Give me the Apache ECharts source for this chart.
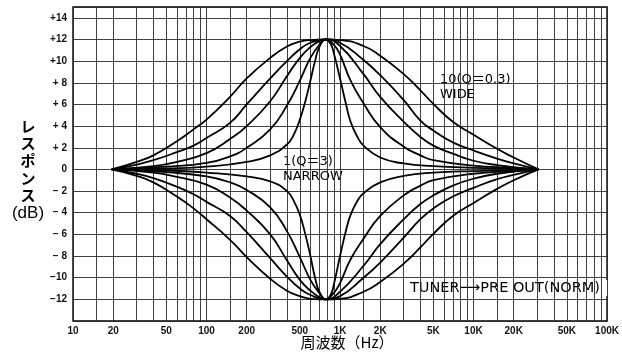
<!DOCTYPE html>
<html>
<head>
<meta charset="utf-8">
<script src="https://cdn.jsdelivr.net/npm/echarts@6/dist/echarts.min.js"></script>
<style>
  html, body { margin: 0; padding: 0; background: #fff; }
  #chart { width: 622px; height: 358px; }
</style>
</head>
<body>
<div id="chart"></div>
<script>
// Tone-control response curves, [frequency Hz, level dB].
// Boost side, narrowest (1, Q=3) to widest (10, Q=0.3).
const boostNarrow = [[19.5,0],[50,0.1],[100,0.25],[200,0.7],[300,1.3],[400,2.3],[450,3.2],[500,4.6],[550,6.3],[600,8.2],[650,10.0],[700,11.3],[780,12],[850,11.6],[900,10.7],[1000,8.4],[1100,6.2],[1200,4.4],[1350,3.0],[1500,2.2],[2000,1.1],[3000,0.55],[5000,0.3],[10000,0.15],[30600,0]];
const boostD = [[19.5,0],[50,0.25],[100,0.6],[150,1.2],[200,2.0],[300,3.7],[400,5.9],[500,8.2],[600,10.3],[700,11.5],[780,12],[900,11.5],[1000,10.6],[1200,8.2],[1500,6.1],[2000,3.9],[3000,2.1],[4000,1.3],[5000,0.85],[10000,0.35],[20000,0.15],[30600,0]];
const boostC = [[19.5,0],[40,0.3],[60,0.7],[100,1.5],[150,2.8],[200,4.0],[300,6.3],[400,8.6],[500,10.3],[600,11.3],[700,11.85],[780,12],[1000,11.4],[1500,8.8],[2000,6.7],[3000,4.4],[4000,3.0],[5000,2.2],[7000,1.45],[10000,0.8],[15000,0.4],[30600,0]];
const boostB = [[19.5,0],[30,0.45],[40,0.85],[60,1.6],[80,2.2],[100,2.9],[150,4.3],[200,6.0],[300,8.4],[400,10.0],[500,11.1],[600,11.7],[780,12],[1000,11.7],[1500,10.1],[2000,8.7],[3000,6.4],[4000,4.5],[5000,3.6],[7000,2.5],[10000,1.75],[15000,1.0],[20000,0.55],[30600,0]];
const boostWide = [[19.5,0],[30,0.7],[40,1.3],[60,2.6],[80,3.7],[100,4.6],[150,6.7],[200,8.4],[300,10.3],[400,11.35],[500,11.8],[600,11.95],[780,12],[1000,11.95],[1500,11.4],[2000,10.5],[3000,8.8],[4000,7.3],[5000,6.05],[7000,4.4],[10000,3.2],[15000,1.9],[20000,1.1],[30600,0]];

// Cut side, same five settings.
const cutNarrow = [[19.5,0],[50,-0.1],[100,-0.3],[200,-0.65],[300,-1.1],[400,-2.0],[450,-2.9],[500,-4.2],[550,-6.0],[600,-8.0],[650,-10.0],[700,-11.3],[780,-12],[850,-11.6],[900,-10.6],[1000,-8.0],[1100,-5.8],[1200,-4.2],[1350,-2.9],[1500,-2.2],[2000,-1.2],[3000,-0.6],[5000,-0.3],[10000,-0.15],[30600,0]];
const cutD = [[19.5,0],[50,-0.25],[100,-0.65],[150,-1.2],[200,-1.9],[300,-3.5],[400,-5.7],[500,-8.1],[600,-10.2],[700,-11.4],[780,-12],[900,-11.4],[1000,-10.5],[1200,-8.3],[1500,-6.4],[2000,-4.3],[3000,-2.4],[4000,-1.5],[5000,-1.0],[10000,-0.4],[20000,-0.15],[30600,0]];
const cutC = [[19.5,0],[40,-0.3],[60,-0.7],[100,-1.4],[150,-2.6],[200,-3.8],[300,-6.0],[400,-8.4],[500,-10.2],[600,-11.2],[700,-11.8],[780,-12],[1000,-11.3],[1500,-8.9],[2000,-6.9],[3000,-4.6],[4000,-3.2],[5000,-2.4],[7000,-1.5],[10000,-0.85],[15000,-0.4],[30600,0]];
const cutB = [[19.5,0],[30,-0.4],[40,-0.8],[60,-1.6],[80,-2.3],[100,-3.0],[150,-4.3],[200,-5.8],[300,-8.2],[400,-9.9],[500,-11.0],[600,-11.6],[780,-12],[1000,-11.7],[1500,-10.0],[2000,-8.6],[3000,-6.3],[4000,-4.6],[5000,-3.6],[7000,-2.5],[10000,-1.7],[15000,-0.9],[20000,-0.5],[30600,0]];
const cutWide = [[19.5,0],[30,-0.6],[40,-1.2],[60,-2.5],[80,-3.6],[100,-4.6],[150,-6.5],[200,-8.1],[300,-10.1],[400,-11.2],[500,-11.7],[600,-11.95],[780,-12],[1000,-11.95],[1500,-11.3],[2000,-10.4],[3000,-8.7],[4000,-7.2],[5000,-5.95],[7000,-4.3],[10000,-3.1],[15000,-1.8],[20000,-1.0],[30600,0]];

// Frequency grid: 1, 1.5, 2 ... 9 in every decade.
const gridFreqs = [10,15,20,30,40,50,60,70,80,90,
  100,150,200,300,400,500,600,700,800,900,
  1000,1500,2000,3000,4000,5000,6000,7000,8000,9000,
  10000,15000,20000,30000,40000,50000,60000,70000,80000,90000,100000];
const xLabelFreqs = [10,20,50,100,200,500,1000,2000,5000,10000,20000,50000,100000];
const xLabelTexts = ['10','20','50','100','200','500','1K','2K','5K','10K','20K','50K','100K'];

const yTickValues = [14,12,10,8,6,4,2,0,-2,-4,-6,-8,-10,-12];
const yTickTexts = ['+14','+12','+10','+ 8','+ 6','+ 4','+ 2','0','\u2212 2','\u2212 4','\u2212 6','\u2212 8','\u221210','\u221212'];

const curves = [boostNarrow, boostD, boostC, boostB, boostWide, cutNarrow, cutD, cutC, cutB, cutWide];

const chart = echarts.init(document.getElementById('chart'), null, { renderer: 'canvas' });

const gridColor = '#2a2a2a';
const labelFont = { fontFamily: 'Liberation Sans', fontWeight: 'bold', fontSize: 10, color: '#111' };
const noteFont = '13px "DejaVu Sans", "Noto Sans CJK JP"';

chart.setOption({
  animation: false,
  backgroundColor: '#fff',
  grid: { left: 73, right: 7, top: 7, bottom: 37, show: true, borderColor: '#000', borderWidth: 1.4, backgroundColor: 'transparent' },
  xAxis: {
    type: 'log', logBase: 10, min: 10, max: 100000,
    axisLine: { show: false },
    axisTick: { show: false, customValues: gridFreqs },
    axisLabel: {
      customValues: xLabelFreqs, margin: 5, ...labelFont,
      formatter: v => { const i = xLabelFreqs.findIndex(f => Math.abs(f - v) / f < 1e-6); return i >= 0 ? xLabelTexts[i] : ''; }
    },
    splitLine: { show: true, lineStyle: { color: gridColor, width: 0.9 } }
  },
  yAxis: {
    type: 'value', min: -14, max: 15, interval: 2,
    axisLine: { show: false },
    axisTick: { show: false },
    axisLabel: {
      margin: 6, ...labelFont,
      formatter: v => { const i = yTickValues.indexOf(v); return i >= 0 ? yTickTexts[i] : ''; }
    },
    splitLine: { show: true, lineStyle: { color: gridColor, width: 0.9 } }
  },
  series: curves.map(d => ({
    type: 'line', data: d, showSymbol: false, smooth: 0.5,
    silent: true, clip: true,
    lineStyle: { color: '#000', width: 1.8 }
  })),
  graphic: [
    // vertical axis title
    ...['レ','ス','ポ','ン','ス'].map((ch, i) => ({
      type: 'text', x: 28, y: 126 + i * 17.3,
      style: { text: ch, font: 'bold 15px "Noto Sans CJK JP"', fill: '#000', align: 'center', verticalAlign: 'middle' }
    })),
    { type: 'text', x: 28, y: 213, style: { text: '(dB)', font: '17px "Liberation Sans"', fill: '#000', align: 'center', verticalAlign: 'middle' } },
    { type: 'text', x: 347, y: 342, style: { text: '周波数（Hz）', font: '15px "Noto Sans CJK JP"', fill: '#000', align: 'center', verticalAlign: 'middle' } },
    { type: 'text', x: 440, y: 80, style: { text: '10(Q\uFF1D0.3)', font: noteFont, fill: '#000', align: 'left', verticalAlign: 'middle' } },
    { type: 'text', x: 440, y: 95, style: { text: 'WIDE', font: noteFont, fill: '#000', align: 'left', verticalAlign: 'middle' } },
    { type: 'text', x: 283, y: 162, style: { text: '1(Q\uFF1D3)', font: noteFont, fill: '#000', align: 'left', verticalAlign: 'middle' } },
    { type: 'text', x: 283, y: 177, style: { text: 'NARROW', font: noteFont, fill: '#000', align: 'left', verticalAlign: 'middle' } },
    { type: 'rect', shape: { x: 408, y: 280, width: 200, height: 16 }, style: { fill: '#fff' } },
    { type: 'text', x: 410, y: 288, style: { text: 'TUNER\u27F6PRE OUT(NORM)', font: '14.5px "DejaVu Sans"', fill: '#000', align: 'left', verticalAlign: 'middle' } }
  ]
});
</script>
</body>
</html>
